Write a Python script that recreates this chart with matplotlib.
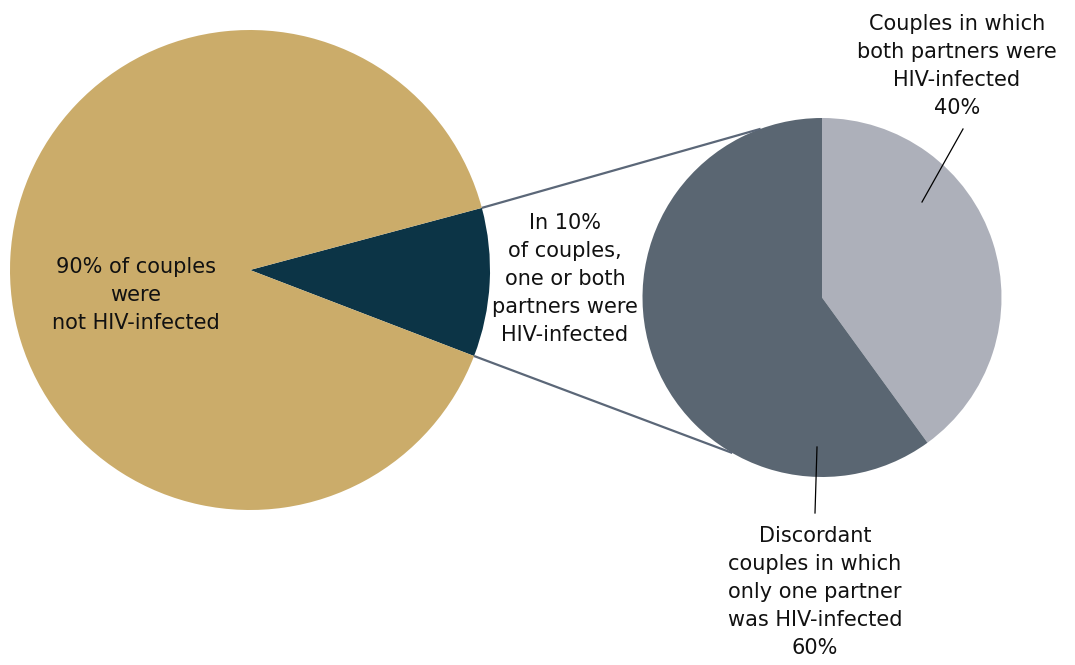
import matplotlib
matplotlib.use("Agg")
import matplotlib.pyplot as plt
import numpy as np

# Share of couples by HIV status
outer_labels = ["In 10%\nof couples,\none or both\npartners were\nHIV-infected",
                "90% of couples\nwere\nnot HIV-infected"]
outer_values = [10, 90]

# Breakdown of the 10% in which at least one partner was infected
inner_labels = ["Couples in which\nboth partners were\nHIV-infected",
                "Discordant\ncouples in which\nonly one partner\nwas HIV-infected"]
inner_values = [40, 60]

GOLD = "#CBAC6A"
TEAL = "#0C3446"
SLATE = "#5A6672"
LIGHT = "#ADB0BA"
LINE = "#5B6778"

W, H = 1075, 665
fig = plt.figure(figsize=(W / 100, H / 100), dpi=100)
ax = fig.add_axes([0, 0, 1, 1])

big_c, big_r = (250, H - 270), 240
small_c, small_r = (822, H - 297.5), 179.5

big_wedges, _ = ax.pie(outer_values, colors=[TEAL, GOLD], startangle=-21,
                       counterclock=True, center=big_c, radius=big_r,
                       wedgeprops=dict(linewidth=0))
small_wedges, _ = ax.pie(inner_values, colors=[LIGHT, SLATE], startangle=90,
                         counterclock=False, center=small_c, radius=small_r,
                         wedgeprops=dict(linewidth=0))


def on_circle(c, r, deg):
    a = np.deg2rad(deg)
    return c[0] + r * np.cos(a), c[1] + r * np.sin(a)


# Connector lines between the highlighted slice and the breakdown pie
w = big_wedges[0]
p_top = on_circle(big_c, big_r, w.theta2)
p_bot = on_circle(big_c, big_r, w.theta1)
q_top = on_circle(small_c, small_r, 110)
q_bot = on_circle(small_c, small_r, -120)
for p, q in [(p_top, q_top), (p_bot, q_bot)]:
    ax.plot([p[0], q[0]], [p[1], q[1]], color=LINE, lw=1.6,
            solid_capstyle="butt", zorder=3)

fs = 15
txt = dict(ha="center", va="center", fontsize=fs, color="#111111",
           family="DejaVu Sans", linespacing=1.5)

ax.text(136, H - 295, outer_labels[1], **txt)
ax.text(565, H - 279, outer_labels[0], **txt)
ax.text(957, H - 66, f"{inner_labels[0]}\n{inner_values[0]}%", **txt)
ax.text(815, H - 592, f"{inner_labels[1]}\n{inner_values[1]}%", **txt)

# Leader lines for the breakdown labels
ax.plot([963, 922], [H - 129, H - 202], color="black", lw=0.9, zorder=4)
ax.plot([817, 815], [H - 447, H - 513], color="black", lw=0.9, zorder=4)

ax.set_xlim(0, W)
ax.set_ylim(0, H)
ax.set_aspect("equal")
ax.set_axis_off()

fig.savefig("out.png", dpi=100, facecolor="white")
